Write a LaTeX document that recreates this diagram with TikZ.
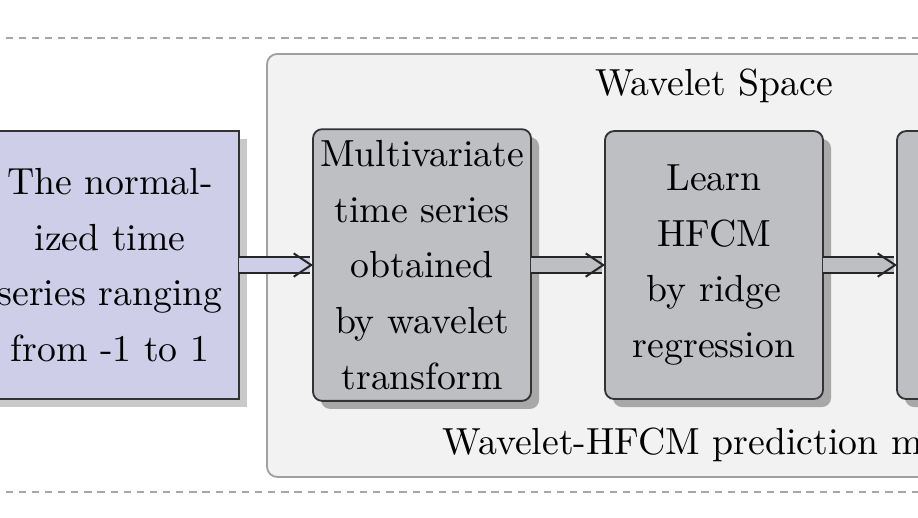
\documentclass[tikz,border=0pt]{standalone}
\usepackage{amsmath}
\usepackage{tikz}
\usetikzlibrary{positioning, arrows.meta, shadows}
\definecolor{inputblue}{RGB}{206,206,232}
\definecolor{wavegray}{RGB}{190,191,195}
\definecolor{spacegray}{RGB}{242,242,242}
\definecolor{spaceline}{RGB}{160,160,160}
\tikzset{
		step nodes/.style={
			rectangle,
			draw=black!80,
			line width=0.5pt,
			align=center,
			text width=1.96cm,
			minimum height=2.582cm,
			inner xsep=2pt,
			inner ysep=3pt,
			outer sep=0pt
		},
		input node/.style={
			step nodes,
			fill=inputblue,
			text width=2.346cm,
			drop shadow={shadow xshift=2.2pt, shadow yshift=-2.2pt, fill=black!21, opacity=1}
		},
		wavelet node/.style={
			step nodes,
			rounded corners=2.5pt,
			fill=wavegray,
			drop shadow={shadow xshift=2.2pt, shadow yshift=-2.2pt, fill=black!34, opacity=1}
		},
		flow/.style={
			draw=black!85,
			line width=0.55pt,
			double distance=3.8pt,
			-{Straight Barb[length=4.8pt, width=6.4pt]}
		},
		frame line/.style={draw=black!35, line width=0.5pt, dash pattern=on 2pt off 1.6pt}
	}

\begin{document}
\begin{tikzpicture}[font=\fontsize{10.35}{15.3}\selectfont]
			\useasboundingbox (0,0) rectangle (8.846,-4.982);
			\draw [frame line] (-0.2,-0.366) -- (9.1,-0.366);
			\draw [frame line] (-0.2,-4.741) -- (9.1,-4.741);
			\draw [rounded corners=2.8pt, fill=spacegray, draw=spaceline, line width=0.5pt]
				(2.573,-0.520) rectangle (9.9,-4.596);
			\node (input) [input node] at (1.060,-2.554)
				{The normal-\\ized time\\series ranging\\from -1 to 1};
			\node (multi) [wavelet node, right=0.713cm of input]
				{Multivariate\\time series\\obtained\\by wavelet\\transform};
			\node (learn) [wavelet node, right=0.713cm of multi]
				{Learn\\HFCM\\by ridge\\regression};
			\node (pred) [wavelet node, right=0.713cm of learn] {};
			\node (space) [anchor=base] at (learn.center |- 0,-0.916) {Wavelet Space};
			\node (model) [anchor=base west, inner sep=0pt] at (4.259,-4.384) {Wavelet-HFCM prediction m};
			\draw [flow, double=inputblue] (input) -- (multi);
			\draw [flow, double=wavegray] (multi) -- (learn);
			\draw [flow, double=wavegray] (learn) -- (pred);
			\end{tikzpicture}
\end{document}
